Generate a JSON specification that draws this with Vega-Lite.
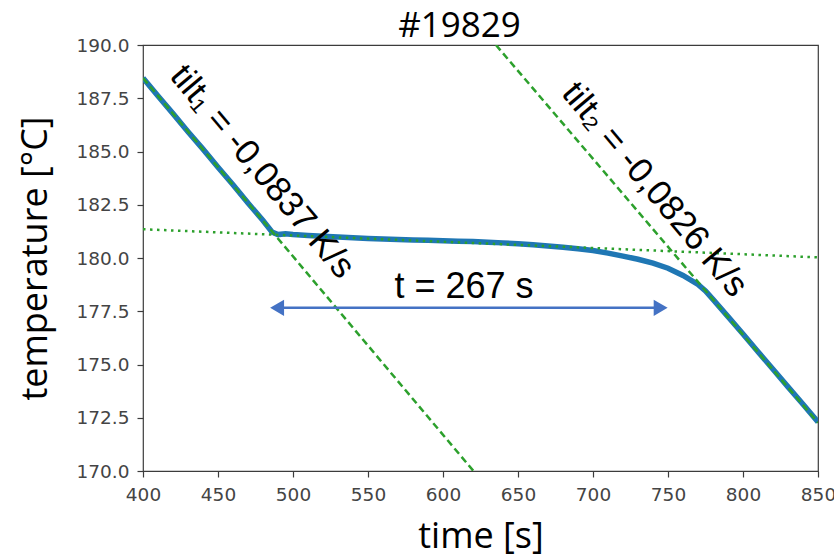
{
  "$schema": "https://vega.github.io/schema/vega-lite/v6.json",
  "autosize": {"type": "none"},
  "padding": {"left": 143, "top": 45, "right": 16, "bottom": 83},
  "width": 675,
  "height": 426,
  "background": "white",
  "config": {
    "view": {"stroke": "#3c3c3c", "strokeWidth": 1.2},
    "axis": {
      "domain": false,
      "grid": false,
      "ticks": true,
      "tickSize": 6,
      "tickColor": "#3c3c3c",
      "tickWidth": 1.2,
      "labelFont": "DejaVu Sans",
      "labelFontSize": 18.5,
      "labelColor": "#444444",
      "labelPadding": 8,
      "labelFlush": false,
      "labelOverlap": false,
      "titleFont": "Open Sans",
      "titleFontSize": 36,
      "titleFontWeight": "normal",
      "titleColor": "#000000"
    }
  },
  "title": {
    "text": "#19829",
    "font": "Open Sans",
    "fontSize": 35,
    "fontWeight": "normal",
    "color": "#000000",
    "anchor": "middle",
    "frame": "group",
    "offset": -8,
    "dx": -21
  },
  "datasets": {
    "curve": [
      {"time": 400, "temp": 188.45},
      {"time": 410, "temp": 187.6},
      {"time": 420, "temp": 186.78},
      {"time": 430, "temp": 185.93},
      {"time": 440, "temp": 185.11},
      {"time": 450, "temp": 184.26},
      {"time": 460, "temp": 183.44},
      {"time": 470, "temp": 182.58},
      {"time": 480, "temp": 181.76},
      {"time": 486, "temp": 181.22},
      {"time": 490, "temp": 181.1},
      {"time": 495, "temp": 181.14},
      {"time": 500, "temp": 181.1},
      {"time": 510, "temp": 181.06},
      {"time": 520, "temp": 181.02},
      {"time": 530, "temp": 180.99},
      {"time": 540, "temp": 180.95},
      {"time": 550, "temp": 180.92},
      {"time": 560, "temp": 180.89},
      {"time": 570, "temp": 180.87},
      {"time": 580, "temp": 180.85},
      {"time": 590, "temp": 180.83},
      {"time": 600, "temp": 180.81},
      {"time": 610, "temp": 180.79},
      {"time": 620, "temp": 180.77},
      {"time": 630, "temp": 180.74},
      {"time": 640, "temp": 180.71},
      {"time": 650, "temp": 180.67},
      {"time": 660, "temp": 180.62},
      {"time": 670, "temp": 180.56},
      {"time": 680, "temp": 180.5},
      {"time": 690, "temp": 180.43},
      {"time": 700, "temp": 180.35},
      {"time": 710, "temp": 180.23},
      {"time": 720, "temp": 180.09},
      {"time": 730, "temp": 179.94},
      {"time": 740, "temp": 179.76},
      {"time": 750, "temp": 179.52},
      {"time": 760, "temp": 179.18},
      {"time": 770, "temp": 178.76},
      {"time": 775, "temp": 178.45},
      {"time": 780, "temp": 178.06},
      {"time": 790, "temp": 177.25},
      {"time": 800, "temp": 176.43},
      {"time": 810, "temp": 175.6},
      {"time": 820, "temp": 174.78},
      {"time": 830, "temp": 173.95},
      {"time": 840, "temp": 173.13},
      {"time": 850, "temp": 172.3}
    ],
    "fits": [
      {"fit": "tilt1", "time": 400, "temp": 188.45},
      {"fit": "tilt1", "time": 620.3, "temp": 170.0},
      {"fit": "tilt2", "time": 635.3, "temp": 190.0},
      {"fit": "tilt2", "time": 850, "temp": 172.27}
    ],
    "plateau": [
      {"time": 400, "temp": 181.35},
      {"time": 850, "temp": 180.03}
    ],
    "span": [
      {"start": 489.4, "end": 745.1, "temp": 177.66}
    ],
    "heads": [
      {"time": 489.4, "temp": 177.66, "dir": "left"},
      {"time": 745.1, "temp": 177.66, "dir": "right"}
    ],
    "tilts": [
      {"time": 479.7, "temp": 184.06, "label": "tilt₁ = -0,0837 K/s"},
      {"time": 741.3, "temp": 183.22, "label": "tilt₂ = -0,0826 K/s"}
    ],
    "duration": [
      {"time": 614, "temp": 178.13, "label": "t = 267 s"}
    ]
  },
  "encoding": {
    "x": {
      "field": "time",
      "type": "quantitative",
      "scale": {"domain": [400, 850], "nice": false, "zero": false},
      "axis": {"title": "time [s]", "values": [400, 450, 500, 550, 600, 650, 700, 750, 800, 850], "format": "d", "titlePadding": 16}
    },
    "y": {
      "field": "temp",
      "type": "quantitative",
      "scale": {"domain": [170, 190], "nice": false, "zero": false},
      "axis": {"title": "temperature [°C]", "values": [170, 172.5, 175, 177.5, 180, 182.5, 185, 187.5, 190], "format": ".1f", "titlePadding": 22}
    }
  },
  "layer": [
    {
      "data": {"name": "curve"},
      "mark": {"type": "line", "color": "#1f77b4", "strokeWidth": 5.5, "clip": true}
    },
    {
      "data": {"name": "fits"},
      "mark": {"type": "line", "color": "#2ca02c", "strokeWidth": 2.5, "strokeDash": [7, 4], "clip": true},
      "encoding": {"detail": {"field": "fit"}}
    },
    {
      "data": {"name": "plateau"},
      "mark": {"type": "line", "color": "#2ca02c", "strokeWidth": 2.5, "strokeDash": [2.5, 4.5], "clip": true}
    },
    {
      "data": {"name": "span"},
      "mark": {"type": "rule", "color": "#4472c4", "strokeWidth": 2.5},
      "encoding": {
        "x": {"field": "start", "type": "quantitative"},
        "x2": {"field": "end"},
        "y": {"field": "temp", "type": "quantitative"}
      }
    },
    {
      "data": {"name": "heads"},
      "mark": {"type": "point", "filled": true, "opacity": 1, "color": "#4472c4", "size": 260},
      "encoding": {
        "shape": {"field": "dir", "type": "nominal", "scale": {"domain": ["left", "right"], "range": ["triangle-left", "triangle-right"]}, "legend": null}
      }
    },
    {
      "data": {"name": "tilts"},
      "mark": {"type": "text", "font": "Liberation Sans", "fontSize": 35, "color": "#000000", "angle": 50, "align": "center", "baseline": "middle"},
      "encoding": {"text": {"field": "label"}}
    },
    {
      "data": {"name": "duration"},
      "mark": {"type": "text", "font": "Liberation Sans", "fontSize": 36, "color": "#000000", "align": "center", "baseline": "alphabetic"},
      "encoding": {"text": {"field": "label"}}
    }
  ]
}
